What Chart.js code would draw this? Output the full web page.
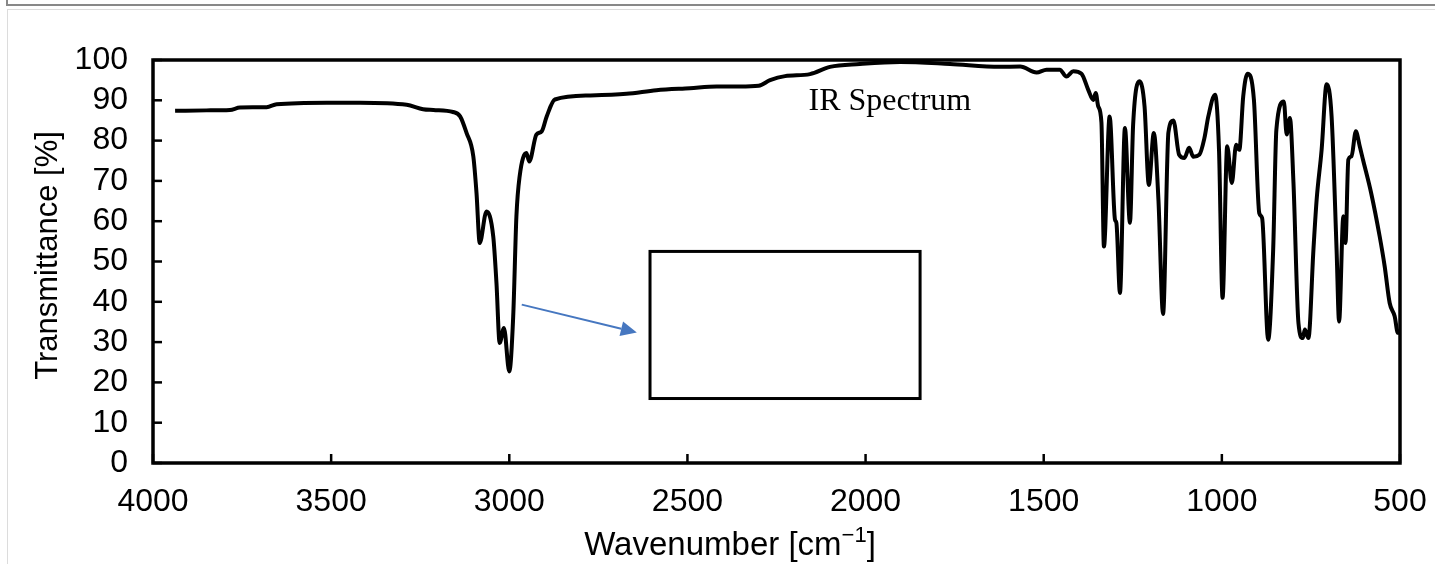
<!DOCTYPE html>
<html lang="en">

<head>
    <meta charset="UTF-8">
    <title>IR Spectrum</title>
    <script src="https://cdn.jsdelivr.net/npm/chart.js"></script>
    <style>
        body { margin: 0; width: 1435px; height: 564px; overflow: hidden; background: white; position: relative; }
        .barra-topo { position: absolute; left: 7px; top: 4px; right: 0; height: 2px; background: #888; }
        .barra-lado { position: absolute; left: 6px; top: 0; width: 2px; height: 6px; background: #888; }
        .moldura { position: absolute; left: 7px; top: 9px; right: 0; bottom: 0; border-top: 1px solid #dcdcdc; border-left: 1px solid #dcdcdc; }
        #grafico { position: absolute; left: 0; top: 0; }
    </style>
</head>

<body>
    <div class="barra-topo"></div>
    <div class="barra-lado"></div>
    <div class="moldura"></div>
    <canvas id="grafico" width="1435" height="564"></canvas>

<script>
    // Espectro (numero de onda em cm-1, transmitancia em %)
    const numeroOnda = [
        3938, 3850, 3784, 3756, 3681, 3653, 3512, 3419, 3288, 3242, 3213, 3158,
        3138, 3120, 3101, 3092, 3083, 3064, 3045, 3036, 3027, 3015, 3000, 2989,
        2980, 2971, 2952, 2944, 2924, 2909, 2895, 2872, 2774, 2671, 2587, 2493,
        2418, 2353, 2300, 2268, 2226, 2156, 2100, 2016, 1903, 1763, 1623, 1566,
        1520, 1492, 1455, 1436, 1417, 1394, 1375, 1361, 1354, 1347, 1338, 1331,
        1315, 1300, 1296, 1286, 1272, 1258, 1249, 1231, 1217, 1205, 1191, 1178,
        1165, 1150, 1136, 1120, 1105, 1092, 1080, 1063, 1049, 1038, 1019, 1008,
        998, 985, 972, 960, 951, 940, 928, 910, 895, 887, 870, 856,
        847, 826, 818, 809, 799, 785, 773, 767, 757, 743, 734, 720,
        706, 692, 678, 671, 659, 653, 645, 636, 624, 613, 604, 581,
        557, 543, 529, 515, 506, 500
    ];
    const transmitancia = [
        87.4, 87.5, 87.6, 88.2, 88.3, 89.0, 89.4, 89.4, 88.9, 87.8, 87.6, 87.1,
        86.0, 81.9, 76.1, 67.0, 54.6, 62.4, 56.2, 44.7, 29.8, 33.5, 22.7, 36.4,
        61.2, 71.1, 76.9, 74.8, 81.5, 82.3, 86.0, 90.2, 91.2, 91.6, 92.5, 93.0,
        93.4, 93.4, 93.6, 95.0, 96.0, 96.5, 98.3, 99.0, 99.5, 99.0, 98.3, 98.4,
        96.9, 97.6, 97.6, 95.9, 97.2, 96.6, 92.6, 90.1, 91.8, 88.5, 84.5, 53.7,
        86.0, 60.4, 59.6, 42.2, 83.1, 59.6, 84.0, 94.7, 88.5, 69.0, 81.9, 65.3,
        37.0, 82.0, 85.0, 76.5, 75.7, 78.2, 76.0, 76.5, 80.6, 86.0, 91.4, 77.7,
        41.0, 78.6, 69.5, 79.0, 77.7, 91.0, 96.6, 90.1, 62.0, 60.8, 30.6, 52.9,
        82.7, 89.7, 81.5, 85.6, 69.5, 34.7, 31.0, 33.1, 31.0, 52.9, 65.3, 77.7,
        94.0, 86.0, 52.9, 35.1, 61.2, 54.6, 75.3, 76.1, 82.3, 78.6, 75.3, 67.0,
        56.2, 48.8, 39.7, 36.4, 32.3, 33.0
    ];

    const ticksX = [4000, 3500, 3000, 2500, 2000, 1500, 1000, 500];
    const ticksY = [0, 10, 20, 30, 40, 50, 60, 70, 80, 90, 100];

    // Caixa e seta desenhadas em coordenadas dos dados
    const caixa = { de: 2605, ate: 1847, topo: 52.5, base: 16 };
    const seta = { x1: 2965, y1: 39.3, x2: 2642, y2: 32.4 };
    const rotulo = { texto: 'IR Spectrum', x: 2160, y: 89.6 };

    const fonteSans = '"Liberation Sans", Arial, sans-serif';
    const fonteSerif = '"Liberation Serif", "Times New Roman", serif';

    const desenhos = {
        id: 'desenhos',
        afterDatasetsDraw(chart) {
            const ctx = chart.ctx;
            const sx = chart.scales.x;
            const sy = chart.scales.y;
            const area = chart.chartArea;
            ctx.save();

            // moldura do grafico
            ctx.strokeStyle = 'black';
            ctx.lineWidth = 3.5;
            ctx.strokeRect(area.left, area.top, area.right - area.left, area.bottom - area.top);

            // marcas para dentro
            ctx.lineWidth = 2.5;
            ticksX.forEach(v => {
                const px = sx.getPixelForValue(v);
                ctx.beginPath();
                ctx.moveTo(px, area.bottom);
                ctx.lineTo(px, area.bottom - 9);
                ctx.stroke();
            });
            ticksY.forEach(v => {
                const py = sy.getPixelForValue(v);
                ctx.beginPath();
                ctx.moveTo(area.left, py);
                ctx.lineTo(area.left + 9, py);
                ctx.stroke();
            });

            // caixa
            ctx.lineWidth = 3;
            const bx1 = sx.getPixelForValue(caixa.de);
            const bx2 = sx.getPixelForValue(caixa.ate);
            const by1 = sy.getPixelForValue(caixa.topo);
            const by2 = sy.getPixelForValue(caixa.base);
            ctx.strokeRect(bx1, by1, bx2 - bx1, by2 - by1);

            // seta azul
            const ax1 = sx.getPixelForValue(seta.x1);
            const ay1 = sy.getPixelForValue(seta.y1);
            const ax2 = sx.getPixelForValue(seta.x2);
            const ay2 = sy.getPixelForValue(seta.y2);
            const ang = Math.atan2(ay2 - ay1, ax2 - ax1);
            const cab = 16;
            ctx.strokeStyle = '#4677c0';
            ctx.fillStyle = '#4677c0';
            ctx.lineWidth = 2;
            ctx.beginPath();
            ctx.moveTo(ax1, ay1);
            ctx.lineTo(ax2 - cab * Math.cos(ang), ay2 - cab * Math.sin(ang));
            ctx.stroke();
            ctx.beginPath();
            ctx.moveTo(ax2, ay2);
            ctx.lineTo(ax2 - cab * Math.cos(ang) + 7.5 * Math.sin(ang), ay2 - cab * Math.sin(ang) - 7.5 * Math.cos(ang));
            ctx.lineTo(ax2 - cab * Math.cos(ang) - 7.5 * Math.sin(ang), ay2 - cab * Math.sin(ang) + 7.5 * Math.cos(ang));
            ctx.closePath();
            ctx.fill();

            // texto do espectro
            ctx.fillStyle = 'black';
            ctx.font = '32px ' + fonteSerif;
            ctx.textAlign = 'left';
            ctx.textBaseline = 'middle';
            ctx.fillText(rotulo.texto, sx.getPixelForValue(rotulo.x), sy.getPixelForValue(rotulo.y));

            // titulo eixo Y
            ctx.save();
            ctx.font = '31px ' + fonteSans;
            ctx.textAlign = 'center';
            ctx.textBaseline = 'alphabetic';
            ctx.translate(57, (area.top + area.bottom) / 2 - 6);
            ctx.rotate(-Math.PI / 2);
            ctx.fillText('Transmittance [%]', 0, 0);
            ctx.restore();

            // titulo eixo X com expoente
            ctx.textAlign = 'left';
            ctx.textBaseline = 'alphabetic';
            const p1 = 'Wavenumber [cm';
            const exp = '\u22121';
            const p3 = ']';
            ctx.font = '33px ' + fonteSans;
            const w1 = ctx.measureText(p1).width;
            const w3 = ctx.measureText(p3).width;
            ctx.font = '22px ' + fonteSans;
            const wExp = ctx.measureText(exp).width;
            let xi = 730 - (w1 + wExp + w3) / 2;
            const base = 555;
            ctx.font = '33px ' + fonteSans;
            ctx.fillText(p1, xi, base);
            xi += w1;
            ctx.font = '22px ' + fonteSans;
            ctx.fillText(exp, xi, base - 13);
            xi += wExp;
            ctx.font = '33px ' + fonteSans;
            ctx.fillText(p3, xi, base);

            ctx.restore();
        }
    };

    const ctx = document.getElementById('grafico').getContext('2d');

    const grafico = new Chart(ctx, {
        type: 'line',
        data: {
            datasets: [{
                data: numeroOnda.map((w, i) => ({ x: w, y: transmitancia[i] })),
                borderColor: 'black',
                borderWidth: 4,
                pointRadius: 0,
                fill: false,
                cubicInterpolationMode: 'monotone'
            }]
        },
        options: {
            responsive: false,
            animation: false,
            devicePixelRatio: 1,
            layout: { padding: { top: 60, right: 35, left: 0, bottom: 0 } },
            plugins: {
                legend: { display: false },
                tooltip: { enabled: false }
            },
            scales: {
                x: {
                    type: 'linear',
                    reverse: true,
                    min: 500,
                    max: 4000,
                    grid: { display: false, drawTicks: false },
                    border: { display: false },
                    ticks: { color: 'black', font: { family: fonteSans, size: 32 }, padding: 20, maxRotation: 0, autoSkip: false, callback: v => String(v) },
                    afterBuildTicks: s => { s.ticks = ticksX.map(v => ({ value: v })); },
                    afterFit: s => { s.height = 101; s.paddingLeft = 0; s.paddingRight = 0; }
                },
                y: {
                    min: 0,
                    max: 100,
                    grid: { display: false, drawTicks: false },
                    border: { display: false },
                    ticks: { color: 'black', font: { family: fonteSans, size: 32 }, padding: 25, autoSkip: false, callback: v => String(v) },
                    afterBuildTicks: s => { s.ticks = ticksY.map(v => ({ value: v })); },
                    afterFit: s => { s.width = 153; s.paddingTop = 0; s.paddingBottom = 0; }
                }
            }
        },
        plugins: [desenhos]
    });
</script>
</body>

</html>
